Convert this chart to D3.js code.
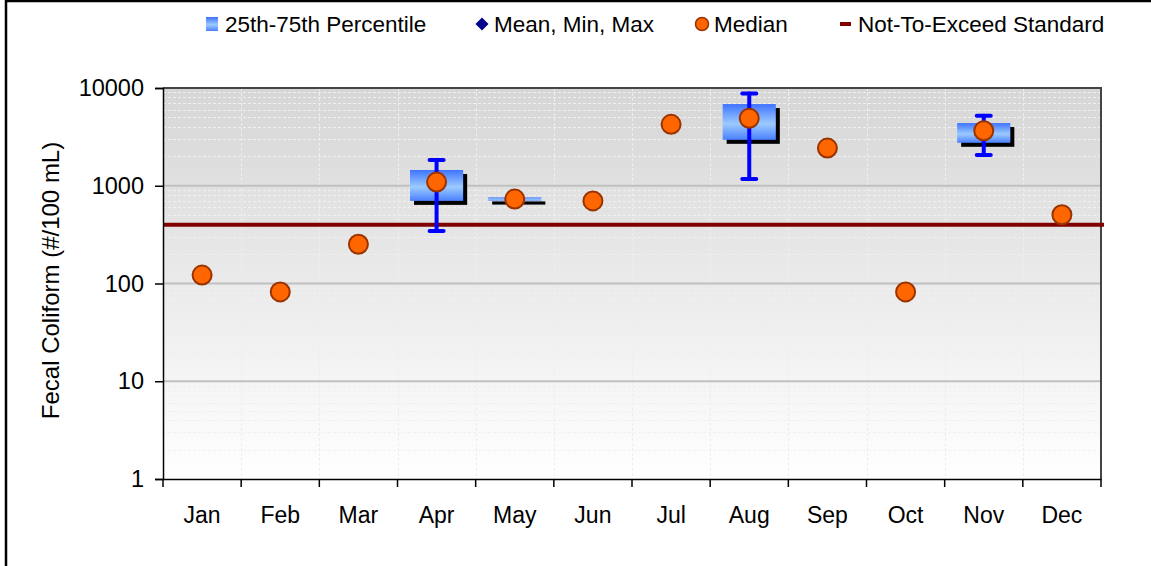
<!DOCTYPE html>
<html>
<head>
<meta charset="utf-8">
<script src="https://d3js.org/d3.v7.min.js"></script>
<style>
  body { margin: 0; background: #fff; }
  svg text { font-family: "Liberation Sans", Arial, sans-serif; }
</style>
</head>
<body>
<div id="chart"></div>
<script>
// monthly fecal coliform stats
var months = ["Jan","Feb","Mar","Apr","May","Jun","Jul","Aug","Sep","Oct","Nov","Dec"];
var median = [122, 82, 252, 1090, 730, 700, 4250, 4900, 2430, 82, 3650, 505];
var p25 = [null, null, null, 700, 705, null, null, 2950, null, null, 2750, null];
var p75 = [null, null, null, 1450, 760, null, null, 6850, null, null, 4380, null];
var minVal = [null, null, null, 345, null, null, null, 1170, null, null, 2060, null];
var maxVal = [null, null, null, 1830, null, null, null, 8800, null, null, 5200, null];
var standard = 400;
var yTicks = [1, 10, 100, 1000, 10000];
var legendLabels = ["25th-75th Percentile", "Mean, Min, Max", "Median", "Not-To-Exceed Standard"];

(function() {
var width = 1151, height = 566;
var pLeft = 163, pRight = 1101, pTop = 88, pBottom = 479;

var svg = d3.select("#chart").append("svg")
    .attr("width", width)
    .attr("height", height);

var defs = svg.append("defs");
var bg = defs.append("linearGradient").attr("id", "bg")
    .attr("x1", 0).attr("x2", 0).attr("y1", 0).attr("y2", 1);
bg.append("stop").attr("offset", "0%").attr("stop-color", "#d6d6d6");
bg.append("stop").attr("offset", "100%").attr("stop-color", "#ffffff");

var boxGrad = defs.append("linearGradient").attr("id", "boxg")
    .attr("x1", 0).attr("x2", 0).attr("y1", 0).attr("y2", 1);
boxGrad.append("stop").attr("offset", "0%").attr("stop-color", "#3f74ff");
boxGrad.append("stop").attr("offset", "55%").attr("stop-color", "#9ccaff");
boxGrad.append("stop").attr("offset", "100%").attr("stop-color", "#4a80ff");

// outer frame
svg.append("rect")
    .attr("x", 6).attr("y", 1)
    .attr("width", width + 20).attr("height", height + 20)
    .attr("fill", "none")
    .attr("stroke", "#000")
    .attr("stroke-width", 2.5);

var x = d3.scaleBand().domain(months).range([pLeft, pRight]);
var y = d3.scaleLog().domain([1, 10000]).range([pBottom, pTop]);

// plot background
svg.append("rect")
    .attr("x", pLeft).attr("y", pTop)
    .attr("width", pRight - pLeft).attr("height", pBottom - pTop)
    .attr("fill", "url(#bg)");

// minor grid
var minor = [];
yTicks.slice(0, -1).forEach(function(d) {
  for (var k = 2; k <= 9; k++) minor.push(d * k);
});
svg.append("g").selectAll("line")
    .data(minor)
    .enter().append("line")
    .attr("x1", pLeft).attr("x2", pRight)
    .attr("y1", function(d) { return Math.round(y(d)) + 0.5; })
    .attr("y2", function(d) { return Math.round(y(d)) + 0.5; })
    .attr("stroke", "#f0f0f0")
    .attr("stroke-dasharray", "3,2")
    .attr("stroke-width", 1);

// vertical grid at category boundaries
svg.append("g").selectAll("line")
    .data(months.slice(1))
    .enter().append("line")
    .attr("x1", function(d) { return Math.round(x(d)) + 0.5; })
    .attr("x2", function(d) { return Math.round(x(d)) + 0.5; })
    .attr("y1", pTop).attr("y2", pBottom)
    .attr("stroke", "#eeeeee")
    .attr("stroke-dasharray", "3,2")
    .attr("stroke-width", 1);

// major grid
svg.append("g").selectAll("line")
    .data(yTicks.slice(1, -1))
    .enter().append("line")
    .attr("x1", pLeft).attr("x2", pRight)
    .attr("y1", function(d) { return y(d); })
    .attr("y2", function(d) { return y(d); })
    .attr("stroke", "#c0c0c0")
    .attr("stroke-width", 2);

// plot border top/right
svg.append("path")
    .attr("d", "M" + pLeft + "," + pTop + "H" + pRight + "V" + pBottom)
    .attr("fill", "none")
    .attr("stroke", "#444")
    .attr("stroke-width", 2);

// standard line
svg.append("line")
    .attr("x1", pLeft).attr("x2", pRight + 3)
    .attr("y1", y(standard)).attr("y2", y(standard))
    .attr("stroke", "#800000")
    .attr("stroke-width", 4);

var bw = x.bandwidth() * 0.68;
var stats = months.map(function(m, i) {
  return { m: m, med: median[i], q1: p25[i], q3: p75[i], lo: minVal[i], hi: maxVal[i] };
});
var boxes = stats.filter(function(d) { return d.q1 != null; });

// shadows
svg.append("g").selectAll("rect")
    .data(boxes)
    .enter().append("rect")
    .attr("x", function(d) { return x(d.m) + x.bandwidth() / 2 - bw / 2 + 4; })
    .attr("y", function(d) { return y(d.q3) + 4; })
    .attr("width", bw)
    .attr("height", function(d) { return Math.max(y(d.q1) - y(d.q3), 2); })
    .attr("fill", "#000");

svg.append("g").selectAll("rect")
    .data(boxes)
    .enter().append("rect")
    .attr("x", function(d) { return x(d.m) + x.bandwidth() / 2 - bw / 2; })
    .attr("y", function(d) { return y(d.q3); })
    .attr("width", bw)
    .attr("height", function(d) { return Math.max(y(d.q1) - y(d.q3), 2); })
    .attr("fill", "url(#boxg)");

// whiskers
var wh = stats.filter(function(d) { return d.lo != null; });
var wg = svg.append("g")
    .attr("stroke", "#0000ff")
    .attr("stroke-width", 4)
    .attr("stroke-linecap", "round");
wh.forEach(function(d) {
  var cx = x(d.m) + x.bandwidth() / 2;
  wg.append("line").attr("x1", cx).attr("x2", cx).attr("y1", y(d.hi)).attr("y2", y(d.lo));
  wg.append("line").attr("x1", cx - 7).attr("x2", cx + 7).attr("y1", y(d.hi)).attr("y2", y(d.hi));
  wg.append("line").attr("x1", cx - 7).attr("x2", cx + 7).attr("y1", y(d.lo)).attr("y2", y(d.lo));
});

// medians
svg.append("g").selectAll("circle")
    .data(stats)
    .enter().append("circle")
    .attr("cx", function(d) { return x(d.m) + x.bandwidth() / 2; })
    .attr("cy", function(d) { return y(d.med); })
    .attr("r", 9.5)
    .attr("fill", "#ff6600")
    .attr("stroke", "#993300")
    .attr("stroke-width", 2);

// y axis
var yAxis = svg.append("g")
    .attr("transform", "translate(" + pLeft + ",0)")
    .call(d3.axisLeft(y).tickValues(yTicks).tickFormat(d3.format("d")).tickSize(8).tickPadding(11));
yAxis.selectAll("text").attr("font-size", "23.5px").attr("fill", "#000");
yAxis.selectAll("line").attr("stroke", "#000").attr("stroke-width", 1.5);
yAxis.select(".domain").attr("stroke", "#000").attr("stroke-width", 1.5);

// x axis
var xAxis = svg.append("g")
    .attr("transform", "translate(0," + pBottom + ")")
    .call(d3.axisBottom(x).tickSize(0).tickPadding(28));
xAxis.selectAll("text").attr("font-size", "23px").attr("fill", "#000");
xAxis.select(".domain").attr("stroke", "#000").attr("stroke-width", 1.5);
xAxis.selectAll(".bound")
    .data(months.map(function(m) { return x(m); }).concat([pRight]))
    .enter().append("line")
    .attr("class", "bound")
    .attr("x1", function(d) { return d; })
    .attr("x2", function(d) { return d; })
    .attr("y1", 0).attr("y2", 8)
    .attr("stroke", "#000")
    .attr("stroke-width", 1.5);

// y title
svg.append("text")
    .attr("transform", "translate(59," + ((pTop + pBottom) / 2 - 3) + ") rotate(-90)")
    .attr("text-anchor", "middle")
    .attr("font-size", "24px")
    .text("Fecal Coliform (#/100 mL)");

// legend
var legend = svg.append("g");
var ly = 24;
legend.append("rect")
    .attr("x", 206).attr("y", ly - 7)
    .attr("width", 12).attr("height", 14)
    .attr("fill", "url(#boxg)");
legend.append("path")
    .attr("d", d3.symbol().type(d3.symbolSquare).size(85)())
    .attr("transform", "translate(482," + ly + ") rotate(45)")
    .attr("fill", "#00008b");
legend.append("circle")
    .attr("cx", 702).attr("cy", ly).attr("r", 6.5)
    .attr("fill", "#ff6600").attr("stroke", "#993300").attr("stroke-width", 1.5);
legend.append("line")
    .attr("x1", 840).attr("x2", 851).attr("y1", ly).attr("y2", ly)
    .attr("stroke", "#800000").attr("stroke-width", 4);

var lx = [225, 494, 714, 858];
legend.selectAll("text")
    .data(legendLabels)
    .enter().append("text")
    .attr("x", function(d, i) { return lx[i]; })
    .attr("y", ly + 8)
    .attr("font-size", "22.5px")
    .text(function(d) { return d; });
})();
</script>
</body>
</html>
